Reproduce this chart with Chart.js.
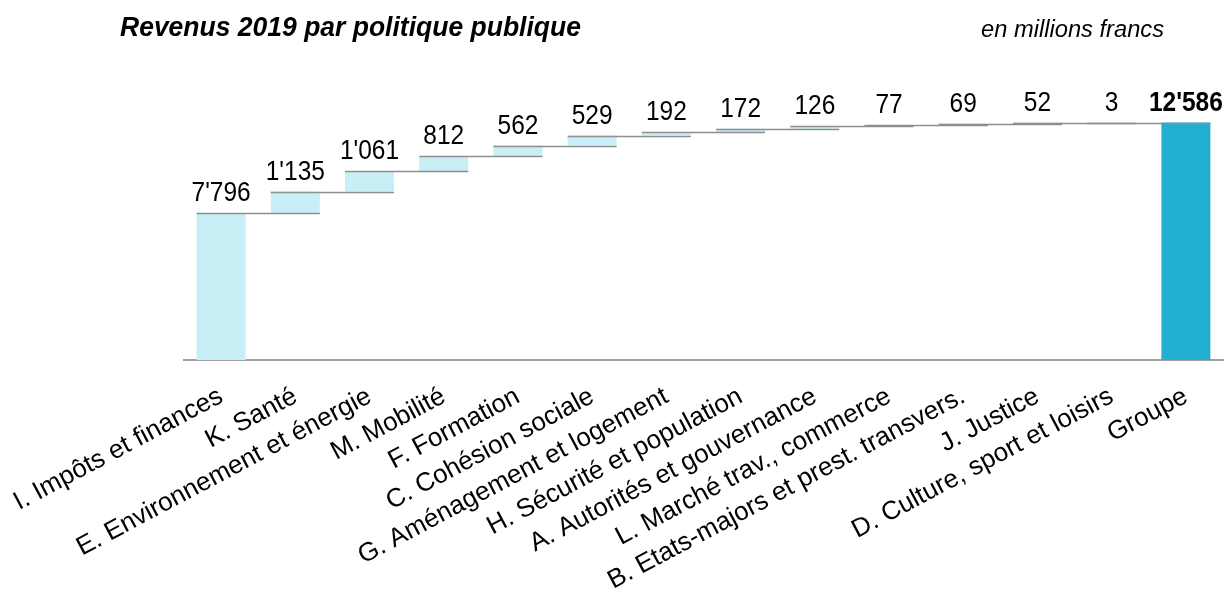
<!DOCTYPE html>
<html>
<head>
<meta charset="utf-8">
<script src="https://cdn.jsdelivr.net/npm/chart.js@4"></script>
<style>
html,body{margin:0;padding:0;background:#fff;}
#wrap{width:1232px;height:595px;position:relative;}
</style>
</head>
<body>
<div id="wrap"><canvas id="c" width="1232" height="595"></canvas></div>
<script>
const categories = [
  "I. Impôts et finances",
  "K. Santé",
  "E. Environnement et énergie",
  "M. Mobilité",
  "F. Formation",
  "C. Cohésion sociale",
  "G. Aménagement et logement",
  "H. Sécurité et population",
  "A. Autorités et gouvernance",
  "L. Marché trav., commerce",
  "B. Etats-majors et prest. transvers.",
  "J. Justice",
  "D. Culture, sport et loisirs",
  "Groupe"
];
const increments = [7796, 1135, 1061, 812, 562, 529, 192, 172, 126, 77, 69, 52, 3];
const titleText = "Revenus 2019 par politique publique";
const unitText = "en millions francs";

// Build floating ranges
const ranges = [];
let run = 0;
increments.forEach(v => { ranges.push([run, run + v]); run += v; });
const total = run;
ranges.push([0, total]);
const labelValues = increments.concat([total]);

const fmt = v => String(v).replace(/\B(?=(\d{3})+(?!\d))/g, "'");

const lightColor = "#C8EEF6";
const totalColor = "#21AED0";
const colors = labelValues.map((v, i) => i === labelValues.length - 1 ? totalColor : lightColor);

const decor = {
  id: 'decor',
  afterDatasetsDraw(chart) {
    const ctx = chart.ctx;
    const meta = chart.getDatasetMeta(0);
    const bars = meta.data;
    ctx.save();
    // connector lines
    ctx.strokeStyle = "#8E8E8E";
    ctx.lineWidth = 1.5;
    for (let i = 0; i < bars.length - 1; i++) {
      const b = bars[i], n = bars[i + 1];
      const y = Math.round(b.y) + 0.5;
      ctx.beginPath();
      ctx.moveTo(b.x - b.width / 2, y);
      ctx.lineTo(n.x + n.width / 2, y);
      ctx.stroke();
    }
    // value labels (slightly tall glyphs as in the reference)
    ctx.fillStyle = "#000";
    ctx.textAlign = "center";
    ctx.textBaseline = "alphabetic";
    bars.forEach((b, i) => {
      const last = i === bars.length - 1;
      ctx.save();
      ctx.translate(b.x, b.y - 12);
      ctx.scale(1, 1.1);
      ctx.font = (last ? "bold " : "") + "24.5px 'Liberation Sans', Arial, sans-serif";
      ctx.fillText(fmt(labelValues[i]), 0, 0);
      ctx.restore();
    });
    // titles
    ctx.textAlign = "left";
    ctx.save();
    ctx.translate(120, 36);
    ctx.scale(1, 1.06);
    ctx.font = "italic bold 26.5px 'Liberation Sans', Arial, sans-serif";
    ctx.fillText(titleText, 0, 0);
    ctx.restore();
    ctx.font = "italic 23.7px 'Liberation Sans', Arial, sans-serif";
    ctx.textAlign = "right";
    ctx.fillText(unitText, 1164, 37);
    ctx.restore();
  }
};

new Chart(document.getElementById('c'), {
  type: 'bar',
  data: {
    labels: categories,
    datasets: [{
      data: ranges,
      backgroundColor: colors,
      borderWidth: 0,
      categoryPercentage: 1.0,
      barPercentage: 0.66
    }]
  },
  options: {
    responsive: false,
    animation: false,
    maintainAspectRatio: false,
    layout: { padding: { left: 184, right: 9, top: 77, bottom: 0 } },
    plugins: { legend: { display: false }, tooltip: { enabled: false }, title: { display: false } },
    scales: {
      x: {
        grid: { display: false, drawTicks: false },
        border: { display: true, color: "#A0A0A0", width: 2 },
        ticks: {
          color: "#000",
          font: { family: "'Liberation Sans', Arial, sans-serif", size: 26 },
          minRotation: 28, maxRotation: 28,
          autoSkip: false,
          padding: 21
        },
        afterFit(scale) {
          scale.height = 235;
          scale.paddingLeft = 0;
          scale.paddingRight = 0;
        }
      },
      y: {
        display: false,
        min: 0,
        max: 15000
      }
    }
  },
  plugins: [decor]
});
</script>
</body>
</html>
